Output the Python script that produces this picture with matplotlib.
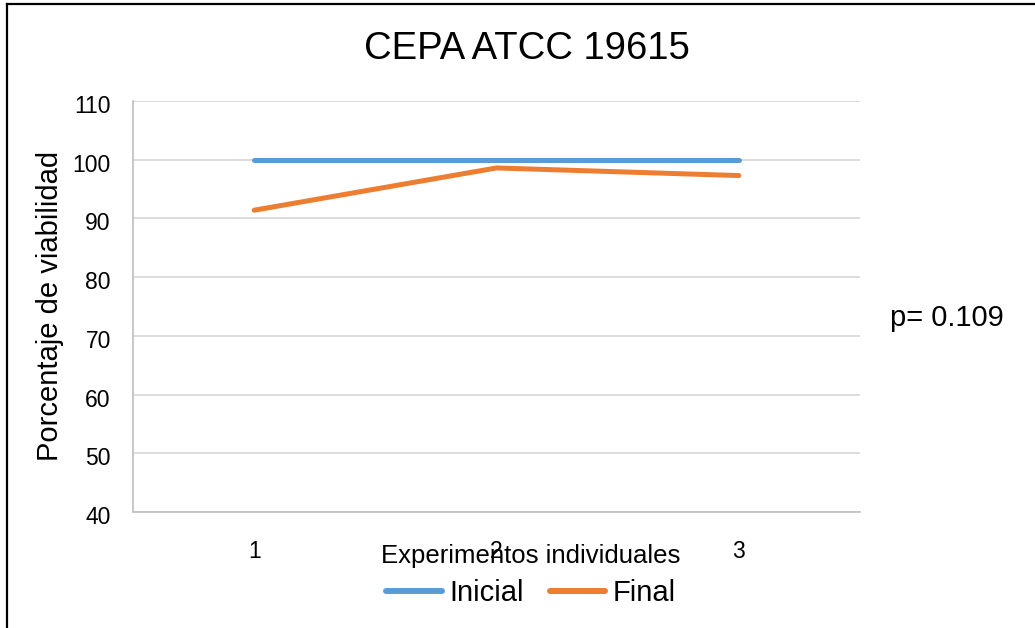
import matplotlib.pyplot as plt
from matplotlib.lines import Line2D
from matplotlib.transforms import ScaledTranslation

plt.rcParams['font.family'] = ['Liberation Sans', 'DejaVu Sans']

# ---- Data ---- #
experimentos = [1, 2, 3]
inicial = [100, 100, 100]
final = [91.4, 98.6, 97.3]
title = "CEPA ATCC 19615"
pvalue = "p= 0.109"

W, H = 1035, 628
fig = plt.figure(figsize=(W / 100, H / 100), dpi=100)
ax = fig.add_axes([133 / W, 1 - 512 / H, (860 - 133) / W, (512 - 101) / H])

ax.plot(experimentos, inicial, color="#5B9BD5", lw=3.6, solid_capstyle="round", label="Inicial", zorder=3)
ax.plot(experimentos, final, color="#ED7D31", lw=3.6, solid_capstyle="round", label="Final", zorder=3)

ax.set_xlim(0.5, 3.5)
ax.set_ylim(40, 110)
ax.set_yticks(range(40, 111, 10))
ax.set_xticks(experimentos)
ax.grid(axis="y", color="#d9d9d9", lw=1.3)
ax.set_axisbelow(True)
for s in ["top", "right"]:
    ax.spines[s].set_visible(False)
for s in ["left", "bottom"]:
    ax.spines[s].set_color("#bfbfbf")
    ax.spines[s].set_linewidth(1.2)
ax.tick_params(axis="both", length=0, labelsize=16.5)
ax.tick_params(axis="x", pad=20)
ax.tick_params(axis="y", pad=16)
# y labels sit a few pixels below their gridline in the original
shift = ScaledTranslation(0, -3 / 100, fig.dpi_scale_trans)
for lbl in ax.get_yticklabels():
    lbl.set_transform(lbl.get_transform() + shift)

fig.text(527 / W, 1 - 49 / H, title, ha="center", va="center", fontsize=27.5)
fig.text(50 / W, 1 - 306 / H, "Porcentaje de viabilidad", rotation=90, ha="center", va="center", fontsize=21)
fig.text(531 / W, 1 - 556 / H, "Experimentos individuales", ha="center", va="center", fontsize=18.5)
fig.text(890 / W, 1 - 318 / H, pvalue, ha="left", va="center", fontsize=21)

leg = fig.legend(loc="center", bbox_to_anchor=(531 / W, 1 - 593 / H), ncol=2, frameon=False,
                 fontsize=21, handlelength=1.9, handletextpad=0.25, columnspacing=0.9)
for h in leg.get_lines():
    h.set_linewidth(4.3)

# ---- Outer frame (left and top only) ---- #
fig.add_artist(Line2D([7 / W, 7 / W], [0, 1 - 4 / H], color="black", lw=1.6))
fig.add_artist(Line2D([7 / W, 1], [1 - 4 / H, 1 - 4 / H], color="black", lw=1.6))

fig.savefig("out.png", dpi=100)
